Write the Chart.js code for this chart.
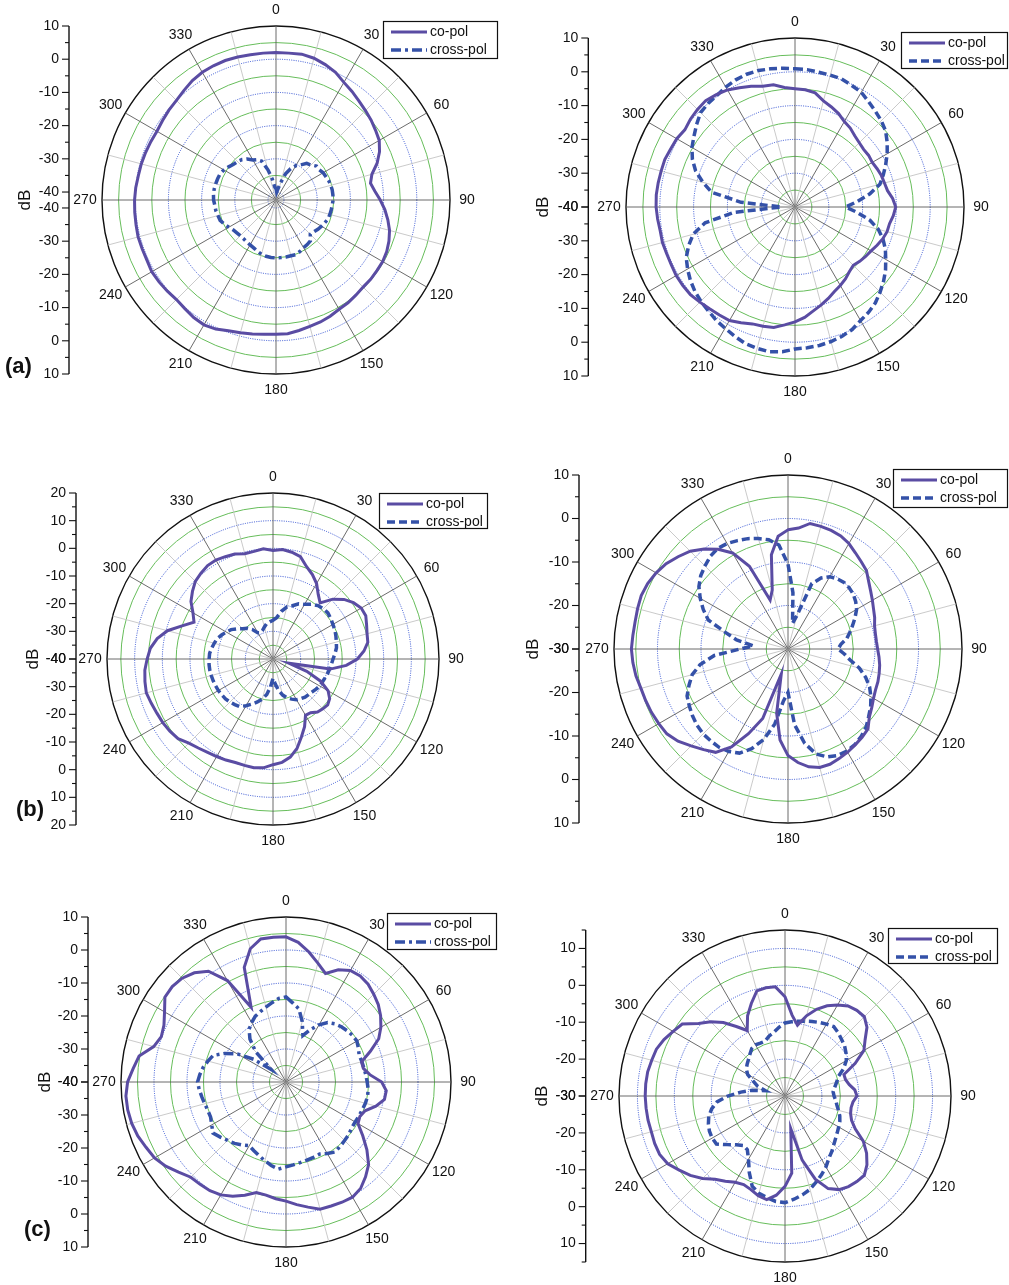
<!DOCTYPE html>
<html>
<head>
<meta charset="utf-8">
<script src="https://cdn.jsdelivr.net/npm/chart.js@4.4.1/dist/chart.umd.min.js"></script>
<style>
html, body { margin: 0; padding: 0; background: #fff; }
#page { position: relative; width: 1009px; height: 1285px; overflow: hidden; background: #fff; }
#page canvas { position: absolute; }
</style>
</head>
<body>
<div id="page"></div>
<script>
// angle categories (degrees, clockwise from top)
const angleLabels = [0,5,10,15,20,25,30,35,40,45,50,55,60,65,70,75,80,85,90,95,100,105,110,115,
  120,125,130,135,140,145,150,155,160,165,170,175,180,185,190,195,200,205,210,215,220,225,230,235,
  240,245,250,255,260,265,270,275,280,285,290,295,300,305,310,315,320,325,330,335,340,345,350,355];
const angleTicks = [0,30,60,90,120,150,180,210,240,270,300,330];

// dB tick labels of the side axes
const dbTicksAL = [10,0,-10,-20,-30,-40];
const dbTicksAR = [10,0,-10,-20,-30,-40];
const dbTicksBL = [20,10,0,-10,-20,-30,-40];
const dbTicksBR = [10,0,-10,-20,-30];
const dbTicksCL = [10,0,-10,-20,-30,-40];
const dbTicksCR = [10,0,-10,-20,-30];

// (a) left
const aCoL = [2,2,2.2,1.8,1,0,-1.5,-2.5,-3.5,-4.3,-5,-5.8,
  -6.5,-8,-10,-12.5,-13.5,-12.5,-11,-9.5,-8.2,-7,-6.2,-5.6,
  -5.3,-5.3,-5.2,-5.3,-5,-4.6,-4.4,-3.8,-3.3,-3,-2.5,-2,
  -2,-1.8,-1.4,-1,-0.5,0.5,1,0.8,0.3,0,0.3,0.6,
  0.8,0.5,0.5,0.6,0.4,0.3,0.2,0,-0.3,-0.4,-0.6,-0.8,
  -1,-0.7,-0.3,0,0.7,1.5,2,2.2,2.3,2.2,2,2];
const aCrossL = [-39,-40,-39,-37,-34,-32,-30.5,-29.5,-28,-27.5,-26.5,-26.5,
  -26,-25.8,-25.5,-25.3,-25.2,-25.2,-25.2,-25.4,-25.5,-25.6,-25.7,-26.2,
  -26.6,-27,-27.5,-27.8,-26.3,-26,-25.8,-25.3,-24.9,-25,-25,-25,
  -25,-25,-25.2,-25.5,-26,-26.5,-26.8,-27,-27.2,-27.2,-27,-26.7,
  -26,-25.2,-24.5,-24.3,-24,-23.9,-23.6,-23.5,-23.5,-23.6,-23.7,-23.8,
  -24.3,-25,-25.7,-26,-26.5,-27.3,-28.5,-29,-30,-33,-36,-38.5];

// (a) right
const aCoR = [-5,-5.2,-5.7,-7.5,-8.5,-9.5,-10.8,-11.5,-12.5,-13.1,-13.5,-13.4,
  -13.6,-13.2,-12.8,-12.6,-12.2,-11,-10.2,-10.8,-11.6,-11.8,-12.4,-13.2,
  -14,-14.5,-15,-15.6,-15,-14,-13.2,-12.4,-11.2,-10,-8.8,-7.2,
  -6,-5,-3.8,-3.5,-3.2,-2.2,-1.2,-1,-0.7,-0.2,0.4,0.5,
  0.6,0.4,0.4,0.6,0.5,0.8,1.1,1.2,1.1,1,1,0.6,
  0.4,-0.2,0.4,0.8,1.1,0.6,0,-1.1,-2,-3,-3.3,-4.5];
const aCrossR = [0.9,0.8,0.5,0.4,0.3,-0.3,-0.8,-2,-3,-3.9,-5,-6.7,
  -8.5,-10.4,-12.2,-14,-17.5,-21.5,-25,-21.5,-17.5,-14.5,-12.3,-10.5,
  -9,-7.3,-5.8,-4.4,-3,-2,-1.2,0,0.7,1.2,1.6,1.8,
  2,3,3.5,3.3,3,2.2,1.4,0.8,0,-0.6,-1.3,-2.2,
  -3.3,-4.5,-6.5,-8.8,-13,-22,-36,-24,-15,-11.8,-8.7,-6.5,
  -4.8,-3.5,-2,-0.5,0,0.3,1,1.5,1.8,1.8,1.5,1.2];

// (b) left
const bCoL = [-0.8,-0.3,-0.8,-1.7,-4.5,-6.3,-8.5,-11.5,-13.5,-9.4,-6.5,-4.5,
  -3.2,-3,-4,-4.8,-5.2,-7,-9.5,-13.4,-19,-34,-27,-21,
  -17,-15,-14.2,-14.5,-15,-16.3,-16.5,-13,-10,-6.5,-4,-2.5,
  -1.8,-0.5,-0.1,-0.2,-0.2,0.3,0.7,1.2,2,3,4.8,5.5,
  6,6.3,6.8,7.4,7,6.5,5.5,4.5,2.5,-0.5,-5,-8.5,
  -6.6,-3.8,-2,-0.3,0.5,1.2,1.3,0.8,0.4,-0.6,-0.5,0];
const bCrossL = [-26,-25,-22.5,-20.5,-19.5,-18,-17.2,-15.8,-14.8,-14.3,-14.1,-14.5,
  -15,-15.3,-15.8,-16.3,-16.7,-17.5,-18.3,-18.8,-19.2,-19.6,-20,-20.3,
  -20.5,-21,-21.5,-21.8,-22,-22.5,-23,-24,-25,-26.5,-28.5,-31,
  -33,-30,-27,-25,-23.5,-22,-20.5,-19,-18.5,-18,-17.6,-17.4,
  -17.2,-17.1,-17,-16.9,-16.8,-16.8,-16.9,-17,-17.5,-18,-18.5,-19.5,
  -20.5,-21.5,-23,-24.5,-25.5,-27,-29,-29.5,-29,-28,-27,-26.5];

// (b) right
const bCoR = [-2.6,-2.1,-0.7,-0.8,-1,-1.3,-2,-3,-3.8,-4.5,-5.8,-6.8,
  -7.6,-8.3,-8.8,-9.4,-9.6,-9.6,-9.4,-9,-8.6,-8.3,-8,-7.8,
  -7.3,-6.5,-5.6,-4,-3.5,-3.1,-2.6,-2.2,-1.8,-1.8,-2.5,-3.8,
  -5.5,-9,-15,-24,-13,-8.5,-4,-1,0.2,1.5,3,4,
  4.3,4.6,4.8,5,5.5,5.8,6,5.8,5.7,5.8,5.9,5.6,
  5,4.2,3,1.8,0,-2,-4.5,-9,-18,-16,-8,-4];
const bCrossR = [-10.5,-17,-24,-22,-14,-12,-10.8,-10.3,-10,-10.1,-10.4,-11,
  -11.8,-13,-14.2,-15.3,-16.3,-17.8,-18.5,-17,-15.5,-13,-11,-9.3,
  -8,-6.8,-5.8,-4.6,-3.8,-3.2,-2.9,-3,-3.6,-5,-8,-12.5,
  -20,-18,-12.5,-8.5,-5.6,-3.6,-2.8,-2.4,-2.4,-2.4,-2.7,-3.2,
  -3.8,-4.4,-5.8,-7.2,-9.5,-13,-19,-22,-18,-15,-10.5,-8.5,
  -6.7,-5,-3.8,-3,-2.2,-1.8,-2,-2.5,-3,-3.7,-4.5,-6];

// (c) left
const cCoL = [4,2.5,0,-2.7,-5,-2.5,-1,-0.8,-1.3,-2.4,-3.5,-5,
  -6.8,-9,-12.8,-16.3,-16.2,-14.5,-11,-9.5,-9.7,-11.8,-14.5,-15.3,
  -14.8,-11.6,-8,-4.6,-2.5,-0.6,0.3,0.2,0,-0.1,-1.5,-2.7,
  -3.9,-4.5,-5.2,-5.3,-3.5,-1.8,-0.5,0.2,0.5,0.8,2.5,4.5,
  6,6.8,7.8,8.4,8.7,8.7,8,6.5,5.2,1.5,0.2,0.8,
  2.5,4.8,5,4.5,3.2,1,-4.5,-15,-3,1.8,4,4];
const cCrossL = [-14.2,-16,-17.5,-21,-25,-22.5,-20,-18,-17,-16.3,-15.8,-15.4,
  -15.2,-15.8,-16.4,-16.2,-16,-15.7,-15.4,-15,-14.9,-15.1,-15.4,-15.6,
  -15.8,-15.7,-15.2,-14.9,-14.5,-14.1,-15,-15.9,-15.7,-15.5,-15.2,-14.8,
  -14.3,-13.5,-14.3,-15.3,-16.2,-17,-17.7,-16.7,-15.7,-15,-14,-13,
  -14,-14.8,-14.8,-14.5,-14.1,-13.6,-13.2,-13.8,-14.5,-15.5,-16.5,-19.5,
  -23,-28,-34,-27,-23,-20.5,-19.2,-18,-17.3,-16.5,-15.6,-14.6];

// (c) right
const cCoR = [-3.1,-8,-10.5,-7.5,-5,-3,-1.5,-0.2,0.3,0.4,-1,-3.5,
  -5.3,-9,-13,-13,-12.3,-11,-10.5,-11.5,-11.8,-11.6,-10.8,-9,
  -5.5,-3,-1,0.4,0.3,0,-0.7,-2.3,-6,-12,-21,-9,
  -5.5,-3,-1.5,-2,-3,-3.5,-3,-1.8,-0.5,1.6,3.5,5,
  6.7,7.5,7.6,7.5,7.7,7.8,7.9,7.9,7.8,7.4,7.1,6.2,
  5,4,0.6,-1.5,-4,-7,-9.5,-6,-3.3,-0.5,-0.2,-0.3];
const cCrossR = [-10.2,-9.8,-9.4,-9,-8.5,-8,-7.5,-7,-7.6,-8.3,-8.9,-9.8,
  -10.8,-12.5,-14.6,-15.5,-16.3,-16.9,-16.7,-16.2,-15.7,-15,-14.2,-13.6,
  -13.2,-12.7,-12.1,-11.3,-10.3,-9.3,-7.8,-6.5,-5.2,-3.8,-2.8,-1.9,
  -1.1,-1.3,-2,-2.7,-4,-7.1,-10.2,-12.2,-12.5,-11.3,-9.5,-7.3,
  -7.2,-7.4,-7.9,-8.6,-9.8,-11.5,-14.5,-18,-21,-24.5,-22,-20.5,
  -18.3,-17.2,-16.6,-16,-15.2,-14.3,-14,-14.2,-14.2,-13.2,-12.5,-11.3];

const coColor = '#5a4ca3';
const crossColor = '#3451a8';
const dashDot = [10, 4, 3, 4];
const dashed = [8, 4];

// where each polar plot sits on the page
const panels = [
  { box: [0, 0, 505, 430], cx: 276.3, cy: 200.7, r: 174, min: -42.4, max: 10, axisX: 69, dbX: 25,
    tag: '(a)', tagXY: [5, 367], legend: [383, 21, 114, 37], co: aCoL, cross: aCrossL, dash: dashDot, ticks: dbTicksAL },
  { box: [505, 0, 504, 430], cx: 795.7, cy: 207.7, r: 169.4, min: -40, max: 10, axisX: 588.3, dbX: 543,
    tag: null, legend: [901, 32, 106, 36], co: aCoR, cross: aCrossR, dash: dashed, ticks: dbTicksAR },
  { box: [0, 430, 505, 440], cx: 273.3, cy: 659.3, r: 166, min: -40, max: 20, axisX: 76, dbX: 33,
    tag: '(b)', tagXY: [16, 810], legend: [379, 493, 108, 35], co: bCoL, cross: bCrossL, dash: dashed, ticks: dbTicksBL },
  { box: [505, 430, 504, 440], cx: 788.3, cy: 649.3, r: 174.3, min: -30, max: 10, axisX: 579, dbX: 533,
    tag: null, legend: [893, 469, 114, 38], co: bCoR, cross: bCrossR, dash: dashed, ticks: dbTicksBR },
  { box: [0, 870, 505, 415], cx: 286.7, cy: 1082.7, r: 165, min: -40, max: 10, axisX: 88, dbX: 45,
    tag: '(c)', tagXY: [24, 1230], legend: [387, 913, 109, 36], co: cCoL, cross: cCrossL, dash: dashDot, ticks: dbTicksCL },
  { box: [505, 870, 504, 415], cx: 785, cy: 1096.7, r: 166, min: -30, max: 15, axisX: 585.7, dbX: 542,
    tag: null, legend: [888, 928, 109, 35], co: cCoR, cross: cCrossR, dash: dashed, ticks: dbTicksCR }
];

const FONT = '"Liberation Sans", Arial, sans-serif';

function ringColor(v, max) {
  if (Math.abs(v - max) < 1e-6) return '#111';
  if (Math.abs(v % 10) < 1e-6) return '#2f4ed0';
  if (Math.abs(v % 5) < 1e-6) return '#66bd5a';
  return 'rgba(0,0,0,0)';
}

// axis, angle labels, legend and panel tag
function deco(p) {
  return {
    id: 'deco',
    afterDraw(chart) {
      const ctx = chart.ctx, sc = chart.scales.r;
      const ox = p.box[0], oy = p.box[1];
      const xc = sc.xCenter, yc = sc.yCenter, R = sc.drawingArea;
      ctx.save();
      ctx.fillStyle = '#111';
      ctx.font = '14px ' + FONT;
      ctx.textAlign = 'center';
      ctx.textBaseline = 'middle';
      angleTicks.forEach(a => {
        const t = a * Math.PI / 180;
        ctx.fillText(String(a), xc + (R + 17) * Math.sin(t), yc - (R + 16) * Math.cos(t));
      });

      // dB axis, mirrored around the centre
      const ax = p.axisX - ox;
      const dTop = sc.getDistanceFromCenterForValue(p.max);
      ctx.strokeStyle = '#111';
      ctx.lineWidth = 1.4;
      ctx.beginPath();
      ctx.moveTo(ax, yc - dTop);
      ctx.lineTo(ax, yc + dTop);
      ctx.stroke();
      ctx.lineWidth = 1.1;
      for (let v = Math.floor(p.max / 5) * 5; v >= p.min; v -= 5) {
        const d = sc.getDistanceFromCenterForValue(v);
        const len = v % 10 === 0 ? 7 : 4;
        [yc - d, yc + d].forEach(y => {
          ctx.beginPath();
          ctx.moveTo(ax - len, y);
          ctx.lineTo(ax, y);
          ctx.stroke();
        });
      }
      ctx.textAlign = 'right';
      p.ticks.forEach(v => {
        const d = sc.getDistanceFromCenterForValue(v);
        ctx.fillText(String(v), ax - 10, yc - d);
        ctx.fillText(String(v), ax - 10, yc + d);
      });

      // dB title
      ctx.save();
      ctx.translate(p.dbX - ox, yc);
      ctx.rotate(-Math.PI / 2);
      ctx.textAlign = 'center';
      ctx.font = '17px ' + FONT;
      ctx.fillText('dB', 0, 0);
      ctx.restore();

      // panel tag
      if (p.tag) {
        ctx.textAlign = 'left';
        ctx.font = 'bold 22px ' + FONT;
        ctx.fillText(p.tag, p.tagXY[0] - ox, p.tagXY[1] - oy);
      }

      // legend
      const [lx, ly, lw, lh] = p.legend;
      const bx = lx - ox, by = ly - oy;
      ctx.fillStyle = '#fff';
      ctx.fillRect(bx, by, lw, lh);
      ctx.strokeStyle = '#111';
      ctx.lineWidth = 1.2;
      ctx.setLineDash([]);
      ctx.strokeRect(bx + 0.5, by + 0.5, lw, lh);
      const rows = [
        { text: 'co-pol', color: coColor, width: 3, dash: [] },
        { text: 'cross-pol', color: crossColor, width: 3.5, dash: p.dash }
      ];
      rows.forEach((row, i) => {
        const y = by + 11 + i * 18;
        ctx.strokeStyle = row.color;
        ctx.lineWidth = row.width;
        ctx.setLineDash(row.dash);
        ctx.beginPath();
        ctx.moveTo(bx + 8, y);
        ctx.lineTo(bx + 44, y);
        ctx.stroke();
        ctx.fillStyle = '#111';
        ctx.textAlign = 'left';
        ctx.font = '14px ' + FONT;
        ctx.fillText(row.text, bx + 47, y);
      });
      ctx.restore();
    }
  };
}

const page = document.getElementById('page');
panels.forEach(p => {
  const [ox, oy, w, h] = p.box;
  const canvas = document.createElement('canvas');
  canvas.width = w;
  canvas.height = h;
  canvas.style.left = ox + 'px';
  canvas.style.top = oy + 'px';
  canvas.style.width = w + 'px';
  canvas.style.height = h + 'px';
  page.appendChild(canvas);

  const lx = p.cx - ox, ly = p.cy - oy;
  new Chart(canvas, {
    type: 'radar',
    data: {
      labels: angleLabels,
      datasets: [
        { label: 'co-pol', data: p.co, borderColor: coColor, borderWidth: 3, pointRadius: 0, fill: false, tension: 0 },
        { label: 'cross-pol', data: p.cross, borderColor: crossColor, borderWidth: 3.5, borderDash: p.dash, pointRadius: 0, fill: false, tension: 0 }
      ]
    },
    options: {
      responsive: false,
      animation: false,
      layout: { padding: { left: lx - p.r, top: ly - p.r, right: w - lx - p.r, bottom: h - ly - p.r } },
      plugins: { legend: { display: false }, tooltip: { enabled: false } },
      scales: {
        r: {
          min: p.min,
          max: p.max,
          ticks: { display: false, stepSize: 5 },
          pointLabels: { display: false },
          grid: {
            circular: true,
            color: c => ringColor(c.tick.value, p.max),
            lineWidth: c => Math.abs(c.tick.value - p.max) < 1e-6 ? 1.4 : 1
          },
          border: {
            dash: c => (Math.abs(c.tick.value % 10) < 1e-6 && Math.abs(c.tick.value - p.max) > 1e-6) ? [1, 1.3] : []
          },
          angleLines: {
            color: c => {
              const a = angleLabels[c.index];
              if (a % 30 === 0) return '#5a5a5a';
              if (a % 15 === 0) return '#c4c4c4';
              return 'rgba(0,0,0,0)';
            },
            lineWidth: c => (angleLabels[c.index] % 15 === 0 ? 0.9 : 0)
          }
        }
      }
    },
    plugins: [deco(p)]
  });
});
</script>
</body>
</html>
